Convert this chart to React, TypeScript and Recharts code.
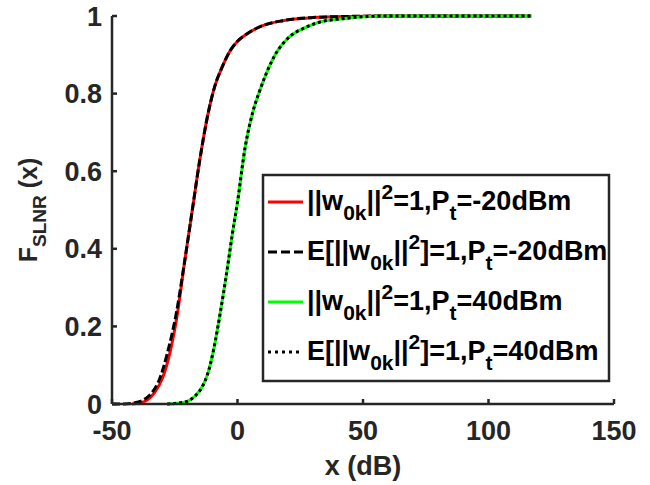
import React from 'react';
import { LineChart, Line, XAxis, YAxis } from 'recharts';

// x in dB, y = CDF value
const redX = [-42, -39, -36, -33, -30, -27, -24, -21, -18, -15, -12, -9, -6, -3, 0, 4, 10, 18, 30, 45, 60, 117];
const redY = [0, 0.003, 0.01, 0.03, 0.065, 0.13, 0.23, 0.37, 0.5, 0.63, 0.74, 0.82, 0.87, 0.91, 0.935, 0.955, 0.975, 0.988, 0.996, 0.999, 1, 1];

const blackDashX = [-50, -45, -41, -37, -34, -31, -28, -24.5, -21, -18, -15, -12, -9, -6, -3, 0, 4, 10, 18, 30, 45, 60, 117];
const blackDashY = [0, 0, 0.003, 0.012, 0.03, 0.065, 0.13, 0.23, 0.37, 0.5, 0.63, 0.74, 0.82, 0.87, 0.91, 0.935, 0.955, 0.975, 0.988, 0.996, 0.999, 1, 1];

const greenX = [-28, -24, -20, -17, -14, -12, -9.5, -7, -4.5, -2, 0, 3, 6, 9, 12, 15, 21, 27, 32, 42, 50, 60, 117];
const greenY = [0, 0.002, 0.007, 0.02, 0.045, 0.075, 0.14, 0.23, 0.33, 0.44, 0.52, 0.66, 0.75, 0.81, 0.86, 0.9, 0.948, 0.97, 0.983, 0.993, 0.998, 1, 1];

const blackDotX = greenX;
const blackDotY = greenY;

const xTicks = [-50, 0, 50, 100, 150];
const yTicks = [0, 0.2, 0.4, 0.6, 0.8, 1];

const legendPt = ['-20dBm', '-20dBm', '40dBm', '40dBm'];
const legendExpect = [false, true, false, true];

const toPts = (xs: number[], ys: number[]) => xs.map((x, i) => ({ x, y: ys[i] }));

const redData = toPts(redX, redY);
const blackDashData = toPts(blackDashX, blackDashY);
const greenData = toPts(greenX, greenY);
const blackDotData = toPts(blackDotX, blackDotY);

const AX = '#262626';
const FONT = '"Liberation Sans", Arial, Helvetica, sans-serif';
const LW = 3;

const legendStyles = [
  { color: '#ff0000', dash: undefined as string | undefined },
  { color: '#000000', dash: '9 4' },
  { color: '#00ff00', dash: undefined },
  { color: '#000000', dash: '3 4' },
];

const MAIN = 27;
const SMALL = 21;

const LegendOverlay = () => {
  const bx = 263, by = 175, bw = 346, bh = 206;
  return (
    <svg width={650} height={485} style={{ position: 'absolute', left: 0, top: 0, pointerEvents: 'none' }}>
      <rect x={bx} y={by} width={bw} height={bh} fill="#fff" stroke={AX} strokeWidth={2.5} />
      {legendStyles.map((s, i) => {
        const ly = by + 27 + i * 50;
        const e = legendExpect[i];
        return (
          <g key={i}>
            <line x1={bx + 5} y1={ly} x2={bx + 40} y2={ly} stroke={s.color} strokeWidth={LW} strokeDasharray={s.dash} />
            <text x={bx + 44} y={ly + 8} fontFamily={FONT} fontWeight="bold" fontSize={MAIN} fill="#000">
              {e ? 'E[' : ''}||w
              <tspan fontSize={SMALL} dy={10}>0k</tspan>
              <tspan dy={-10}>||</tspan>
              <tspan fontSize={SMALL} dy={-11}>2</tspan>
              <tspan dy={11}>{e ? ']' : ''}=1,P</tspan>
              <tspan fontSize={SMALL} dy={10}>t</tspan>
              <tspan dy={-10}>={legendPt[i]}</tspan>
            </text>
          </g>
        );
      })}
    </svg>
  );
};

const YLabel = (props: any) => {
  const vb = props.viewBox || {};
  const cx = 37;
  const cy = (vb.y ?? 16) + (vb.height ?? 388) / 2;
  return (
    <text
      x={cx}
      y={cy}
      transform={`rotate(-90, ${cx}, ${cy})`}
      textAnchor="middle"
      fill={AX}
      fontFamily={FONT}
      fontWeight="bold"
      fontSize={25}
    >
      F<tspan fontSize={19} dy={9}>SLNR</tspan>
      <tspan dy={-9}> (x)</tspan>
    </text>
  );
};

const tickStyle = { fill: AX, fontFamily: FONT, fontWeight: 'bold' as const, fontSize: 27 };

export default function App() {
  return (
    <div style={{ position: 'absolute', left: 0, top: 0, width: 650, height: 485, background: '#fff' }}>
      <LineChart width={650} height={485} margin={{ top: 16, right: 36, bottom: 0, left: 0 }}>
        <XAxis
          xAxisId="b"
          dataKey="x"
          type="number"
          domain={[-50, 150]}
          ticks={xTicks}
          allowDataOverflow
          height={81}
          stroke={AX}
          strokeWidth={2.5}
          tickSize={-5}
          tickMargin={22}
          tick={tickStyle}
          label={{ value: 'x (dB)', position: 'insideBottom', offset: 10, fill: AX, fontFamily: FONT, fontWeight: 'bold', fontSize: 27 }}
        />
        <XAxis
          xAxisId="t"
          orientation="top"
          dataKey="x"
          type="number"
          domain={[-50, 150]}
          ticks={xTicks}
          allowDataOverflow
          height={0}
          stroke={AX}
          strokeWidth={2.5}
          tickSize={-5}
          tick={false}
        />
        <YAxis
          yAxisId="l"
          type="number"
          domain={[0, 1]}
          ticks={yTicks}
          width={112}
          stroke={AX}
          strokeWidth={2.5}
          tickSize={-5}
          tickMargin={15}
          tick={tickStyle}
          tickFormatter={(v: number) => String(v)}
          label={{ content: (p: any) => <YLabel {...p} /> }}
        />
        <YAxis
          yAxisId="r"
          orientation="right"
          type="number"
          domain={[0, 1]}
          ticks={yTicks}
          width={0}
          stroke={AX}
          strokeWidth={2.5}
          tickSize={-5}
          tick={false}
        />
        <Line xAxisId="b" yAxisId="l" data={redData} dataKey="y" type="monotone" stroke="#ff0000" strokeWidth={LW} dot={false} isAnimationActive={false} />
        <Line xAxisId="b" yAxisId="l" data={blackDashData} dataKey="y" type="monotone" stroke="#000000" strokeWidth={LW} strokeDasharray="8 3" dot={false} isAnimationActive={false} />
        <Line xAxisId="b" yAxisId="l" data={greenData} dataKey="y" type="monotone" stroke="#00ff00" strokeWidth={LW} dot={false} isAnimationActive={false} />
        <Line xAxisId="b" yAxisId="l" data={blackDotData} dataKey="y" type="monotone" stroke="#000000" strokeWidth={LW} strokeDasharray="3 3" dot={false} isAnimationActive={false} />
      </LineChart>
      <LegendOverlay />
    </div>
  );
}
